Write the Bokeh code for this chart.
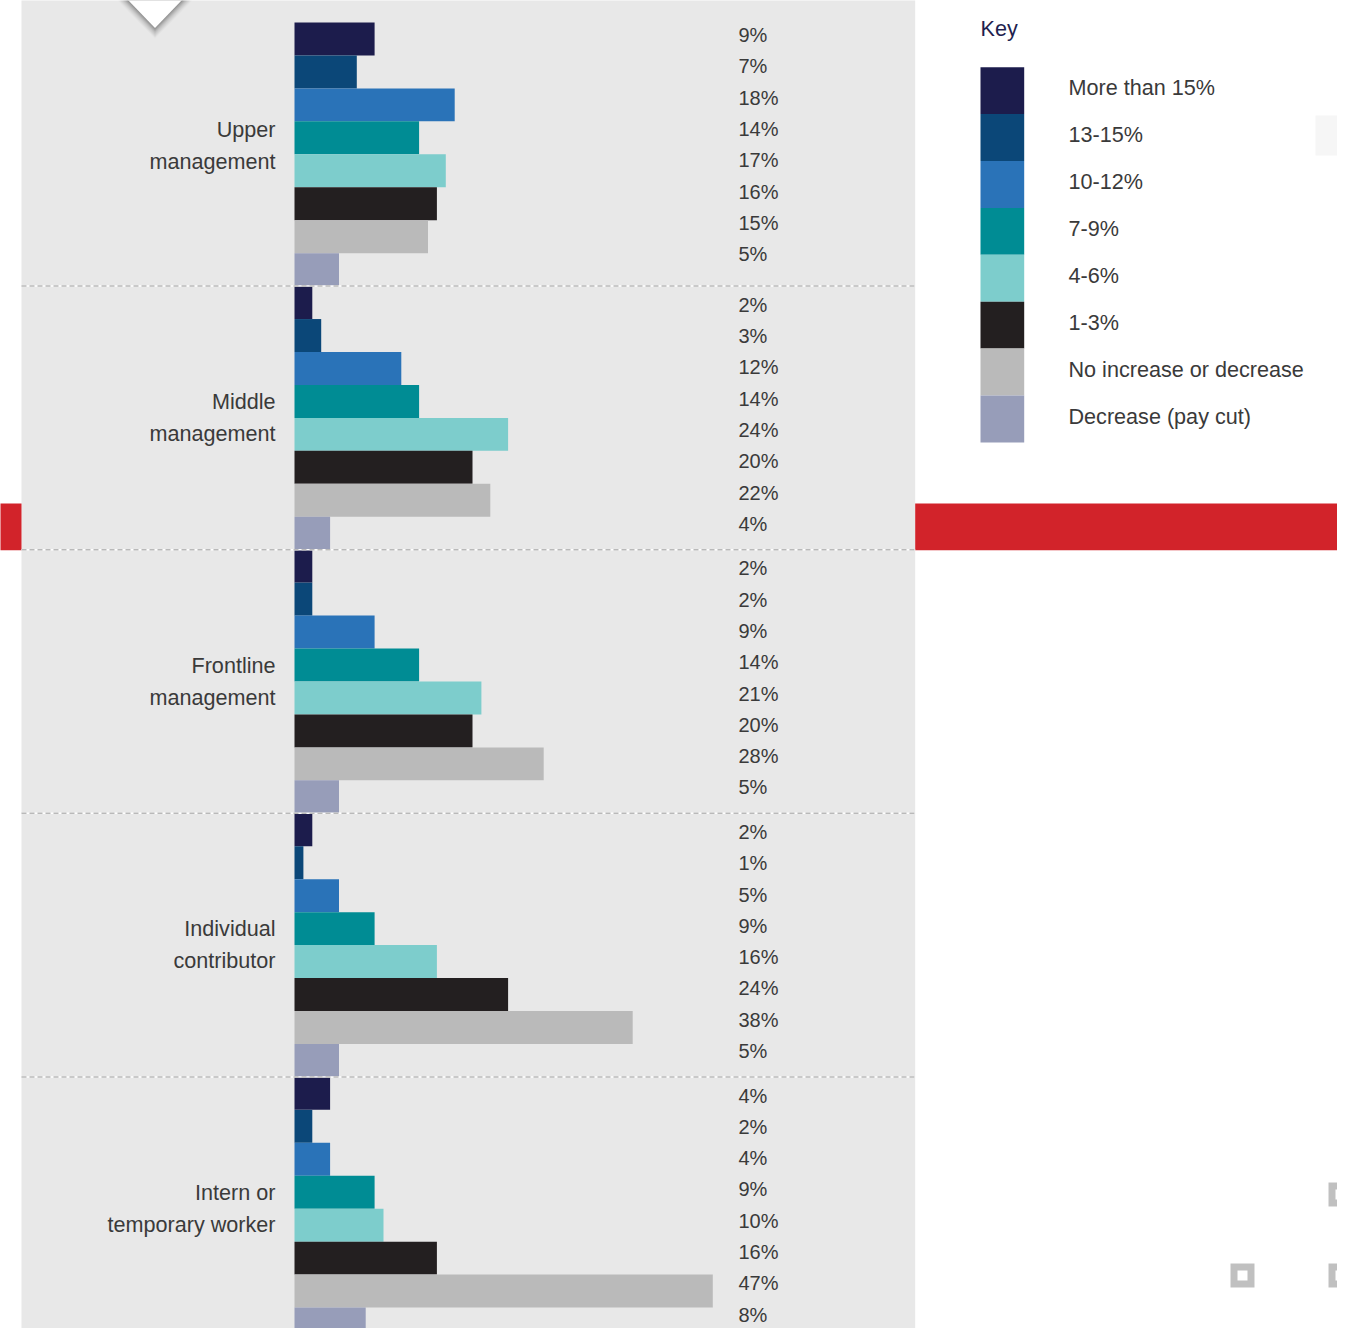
from bokeh.plotting import figure
from bokeh.models import Range1d, ColumnDataSource
from bokeh.core.properties import value
from bokeh.embed import file_html
from bokeh.resources import INLINE

# ---------------- data ----------------
groups = ["Upper management", "Middle management", "Frontline management",
          "Individual contributor", "Intern or temporary worker"]
group_lines = [["Upper", "management"], ["Middle", "management"],
               ["Frontline", "management"], ["Individual", "contributor"],
               ["Intern or", "temporary worker"]]
categories = ["More than 15%", "13-15%", "10-12%", "7-9%", "4-6%", "1-3%",
              "No increase or decrease", "Decrease (pay cut)"]
colors = ["#1c1c4c", "#0b4778", "#2a73b8", "#008c94", "#7dcdcc", "#231f20",
          "#bababa", "#979db9"]
upper = [9, 7, 18, 14, 17, 16, 15, 5]
middle = [2, 3, 12, 14, 24, 20, 22, 4]
frontline = [2, 2, 9, 14, 21, 20, 28, 5]
individual = [2, 1, 5, 9, 16, 24, 38, 5]
intern = [4, 2, 4, 9, 10, 16, 47, 8]
series = [upper, middle, frontline, individual, intern]

# ---------------- layout helpers (reference pixel -> data units) ----------------
PX0 = 294.0      # pixel of 0 %
PPP = 8.9        # pixels per percent
SLOT_TOP = 22.0  # pixel of first bar top
SLOT_PX = 32.95  # pixel height of one bar slot


def px_x(px):
    return (px - PX0) / PPP


def px_y(py):
    return (py - SLOT_TOP) / SLOT_PX


W, H = 1337, 1328
p = figure(width=W, height=H, output_backend="svg", toolbar_location=None,
           x_range=Range1d(px_x(0), px_x(W)),
           y_range=Range1d(px_y(H), px_y(0)),
           min_border=0, background_fill_color="white", border_fill_color="white")
p.axis.visible = False
p.grid.visible = False
p.outline_line_color = None

FONT = value("Liberation Sans")
TXT = "#3a3a3a"
n = len(categories)
SMALL, BIG = 20, 21.6
ADJ_S, ADJ_B = 7.0, 8.5   # baseline correction for the renderer

# grey panel
p.quad(left=[px_x(21)], right=[px_x(914.7)], top=[px_y(-2)], bottom=[px_y(H + 4)],
       fill_color="#e8e8e8", line_color=None)

# red band
p.quad(left=[px_x(-2), px_x(914.7)], right=[px_x(21), px_x(W + 2)],
       top=[px_y(503)] * 2, bottom=[px_y(549.7)] * 2,
       fill_color="#d2232a", line_color=None)

# notch triangle with soft shadow
for k, a in zip(range(9, 0, -1), [0.02, 0.025, 0.03, 0.035, 0.04, 0.05, 0.06, 0.07, 0.08]):
    p.patch([px_x(127 - k * 1.2), px_x(182 + k * 1.2), px_x(154.5)],
            [px_y(-1), px_y(-1), px_y(27.5 + k * 1.2)],
            fill_color="#000000", fill_alpha=a, line_color=None)
p.patch([px_x(127), px_x(182), px_x(154.5)], [px_y(-1), px_y(-1), px_y(27.5)],
        fill_color="white", line_color=None)

# bars
ys, rights, cols = [], [], []
for g, vals in enumerate(series):
    for i, v in enumerate(vals):
        ys.append(g * n + i + 0.5)
        rights.append(v)
        cols.append(colors[i])
src = ColumnDataSource(dict(y=ys, right=rights, color=cols))
p.hbar(y="y", left=0, right="right", height=1.0, fill_color="color",
       line_color=None, source=src)

# dashed separators
for g in range(1, len(groups)):
    yy = g * n
    p.line([px_x(21), px_x(914.7)], [yy, yy], line_color="white", line_width=1.5)
    p.line([px_x(21), px_x(914.7)], [yy, yy], line_color="#b9b9b9",
           line_width=1.5, line_dash="5 3")

# value labels
text_shift_pct = [6, 0, 0, 0, 0]
tx, ty, tt = [], [], []
for g, vals in enumerate(series):
    gtop = SLOT_TOP + g * n * SLOT_PX
    for i, v in enumerate(vals):
        tx.append(px_x(738))
        ty.append(px_y(gtop + 25.6 + i * 31.3 - text_shift_pct[g] - ADJ_S))
        tt.append(f"{v}%")
p.text(x=tx, y=ty, text=tt, text_font=FONT, text_font_size=f"{SMALL}px",
       text_color=TXT, text_baseline="alphabetic", text_align="left")

# group labels
text_shift_cat = [9, 0, 0, 0, 0]
lx, ly, lt = [], [], []
for g, lines in enumerate(group_lines):
    gtop = SLOT_TOP + g * n * SLOT_PX
    for j, s in enumerate(lines):
        lx.append(px_x(275))
        ly.append(px_y(gtop + 124 + j * 32 - text_shift_cat[g] - ADJ_B))
        lt.append(s)
p.text(x=lx, y=ly, text=lt, text_font=FONT, text_font_size=f"{BIG}px",
       text_color=TXT, text_baseline="alphabetic", text_align="right")

# legend
p.text(x=[px_x(980)], y=[px_y(36.7 - ADJ_B)], text=["Key"], text_font=FONT,
       text_font_size=f"{BIG}px", text_color="#1f1f4f", text_baseline="alphabetic")
SW_TOP, SW_H = 66.7, 46.9
p.quad(left=[px_x(980)] * n, right=[px_x(1023.7)] * n,
       top=[px_y(SW_TOP + k * SW_H) for k in range(n)],
       bottom=[px_y(SW_TOP + (k + 1) * SW_H) for k in range(n)],
       fill_color=colors, line_color=None)
p.text(x=[px_x(1068)] * n, y=[px_y(95.7 + k * SW_H - ADJ_B) for k in range(n)],
       text=categories, text_font=FONT, text_font_size=f"{BIG}px", text_color=TXT,
       text_baseline="alphabetic")

# small decorative squares
sq = [(1242, 1275), (1340, 1194), (1340, 1275)]
p.quad(left=[px_x(cx - 12) for cx, cy in sq], right=[px_x(cx + 12) for cx, cy in sq],
       top=[px_y(cy - 12) for cx, cy in sq], bottom=[px_y(cy + 12) for cx, cy in sq],
       fill_color="#c0c0c0", line_color=None)
p.quad(left=[px_x(cx - 5) for cx, cy in sq], right=[px_x(cx + 5) for cx, cy in sq],
       top=[px_y(cy - 5) for cx, cy in sq], bottom=[px_y(cy + 5) for cx, cy in sq],
       fill_color="white", line_color=None)
p.quad(left=[px_x(1315)], right=[px_x(W + 2)], top=[px_y(115)], bottom=[px_y(155)],
       fill_color="#f6f6f6", line_color=None)

open("out.html", "w").write(file_html(p, INLINE))
